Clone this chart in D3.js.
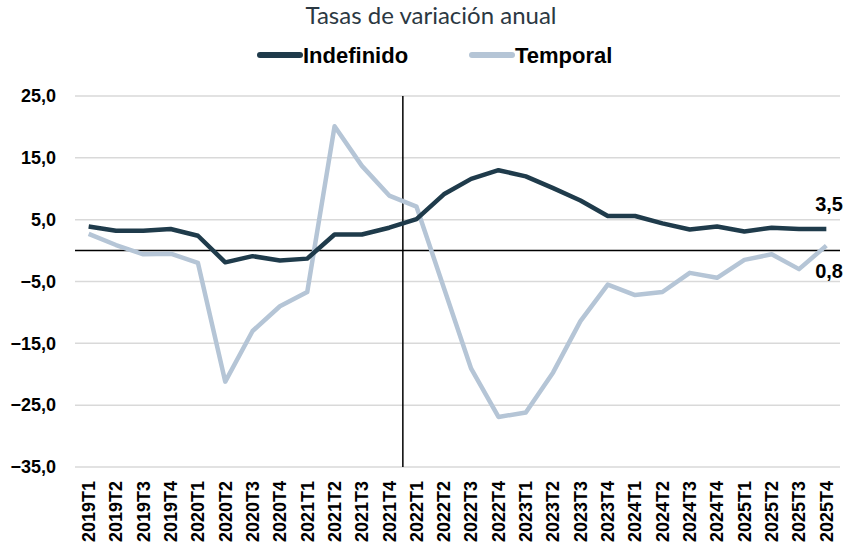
<!DOCTYPE html>
<meta charset="utf-8">
<script src="https://d3js.org/d3.v7.min.js"></script>
<style>
  body { margin: 0; background: #fff; }
</style>
<div id="chart"></div>
<script>

  // data
  var quarters = ["2019T1","2019T2","2019T3","2019T4","2020T1","2020T2","2020T3","2020T4",
                  "2021T1","2021T2","2021T3","2021T4","2022T1","2022T2","2022T3","2022T4",
                  "2023T1","2023T2","2023T3","2023T4","2024T1","2024T2","2024T3","2024T4",
                  "2025T1","2025T2","2025T3","2025T4"];
  var indefinido = [3.9, 3.2, 3.2, 3.5, 2.4, -1.9, -0.9, -1.6,
                    -1.3, 2.6, 2.6, 3.7, 5.1, 9.1, 11.6, 13.0,
                    12.0, 10.1, 8.1, 5.6, 5.6, 4.4, 3.4, 3.9,
                    3.1, 3.7, 3.5, 3.5];
  var temporal = [2.7, 0.9, -0.6, -0.5, -2.0, -21.2, -13.0, -9.0,
                  -6.7, 20.1, 13.7, 8.9, 7.1, -6.0, -19.1, -26.9,
                  -26.2, -19.7, -11.4, -5.5, -7.2, -6.7, -3.6, -4.4,
                  -1.5, -0.6, -3.0, 0.8];
  var yTicks = [25, 15, 5, -5, -15, -25, -35];
  var seriesNames = ["Indefinido", "Temporal"];
  var colors = ["#1f3b4b", "#b5c5d6"];
  var markerQuarter = "2022T1";

  var W = 844, H = 556;
  var svg = d3.select("#chart").append("svg")
      .attr("width", W).attr("height", H);

  var x = d3.scaleBand().domain(quarters).range([75, 840]).padding(0);
  var y = d3.scaleLinear().domain([-35, 25]).range([467, 96]);
  var cx = function(q) { return x(q) + x.bandwidth() / 2; };
  var fmt = function(v) { return d3.format(".1f")(v).replace(".", ","); };

  // title
  svg.append("text")
      .attr("x", 431).attr("y", 24)
      .attr("text-anchor", "middle")
      .style("font-family", "Lato, 'Open Sans', sans-serif")
      .style("font-size", "24px")
      .attr("fill", "#2b3842")
      .text("Tasas de variación anual");

  // legend
  var legX = [258, 470];
  seriesNames.forEach(function(name, i) {
    var g = svg.append("g").attr("transform", "translate(" + legX[i] + ",55)");
    g.append("line").attr("x1", 2).attr("x2", 42).attr("y1", 0).attr("y2", 0)
      .attr("stroke", colors[i]).attr("stroke-width", 6).attr("stroke-linecap", "round");
    g.append("text").attr("x", 45).attr("y", 8)
      .style("font-family", "'Liberation Sans Narrow', 'Liberation Sans', Arial, sans-serif")
      .style("font-weight", "bold")
      .style("font-size", "22px")
      .attr("fill", "#000")
      .text(name);
  });

  // gridlines
  svg.append("g").selectAll("line").data(yTicks).enter().append("line")
      .attr("x1", 75).attr("x2", 840)
      .attr("y1", function(d) { return y(d); }).attr("y2", function(d) { return y(d); })
      .attr("stroke", "#d9d9d9").attr("stroke-width", 1.5);

  // y axis
  var yAxis = svg.append("g").attr("transform", "translate(75,0)")
      .call(d3.axisLeft(y).tickValues(yTicks).tickSize(0).tickPadding(19).tickFormat(fmt));
  yAxis.select(".domain").remove();
  yAxis.selectAll("text")
      .style("font-family", "'Liberation Sans', Arial, sans-serif")
      .style("font-weight", "bold")
      .style("font-size", "18px")
      .attr("fill", "#000");

  // x axis
  var xAxis = svg.append("g").attr("transform", "translate(0," + y(-35) + ")")
      .call(d3.axisBottom(x).tickSize(0).tickPadding(0));
  xAxis.select(".domain").remove();
  xAxis.selectAll("text")
      .style("font-family", "'Liberation Sans', Arial, sans-serif")
      .style("font-weight", "bold")
      .style("font-size", "18px")
      .attr("fill", "#000")
      .attr("text-anchor", "end")
      .attr("transform", "rotate(-90)")
      .attr("x", -14).attr("y", 0).attr("dy", "0.35em");

  // zero line and vertical marker
  svg.append("line")
      .attr("x1", 75).attr("x2", 840).attr("y1", y(0)).attr("y2", y(0))
      .attr("stroke", "#000").attr("stroke-width", 1.5);
  svg.append("line")
      .attr("x1", x(markerQuarter)).attr("x2", x(markerQuarter))
      .attr("y1", y(25)).attr("y2", y(-35))
      .attr("stroke", "#000").attr("stroke-width", 1.5);

  // lines
  var line = d3.line()
      .x(function(d, i) { return cx(quarters[i]); })
      .y(function(d) { return y(d); });
  [temporal, indefinido].forEach(function(s, k) {
    svg.append("path").datum(s)
      .attr("fill", "none")
      .attr("stroke", k === 0 ? colors[1] : colors[0])
      .attr("stroke-width", 4.5)
      .attr("stroke-linejoin", "round")
      .attr("d", line);
  });

  // end labels
  svg.append("text")
      .attr("x", 843).attr("y", y(indefinido[indefinido.length - 1]) - 18)
      .attr("text-anchor", "end")
      .style("font-family", "'Liberation Sans', Arial, sans-serif")
      .style("font-weight", "bold").style("font-size", "20px")
      .text(fmt(indefinido[indefinido.length - 1]));
  svg.append("text")
      .attr("x", 843).attr("y", y(temporal[temporal.length - 1]) + 32)
      .attr("text-anchor", "end")
      .style("font-family", "'Liberation Sans', Arial, sans-serif")
      .style("font-weight", "bold").style("font-size", "20px")
      .text(fmt(temporal[temporal.length - 1]));

</script>
